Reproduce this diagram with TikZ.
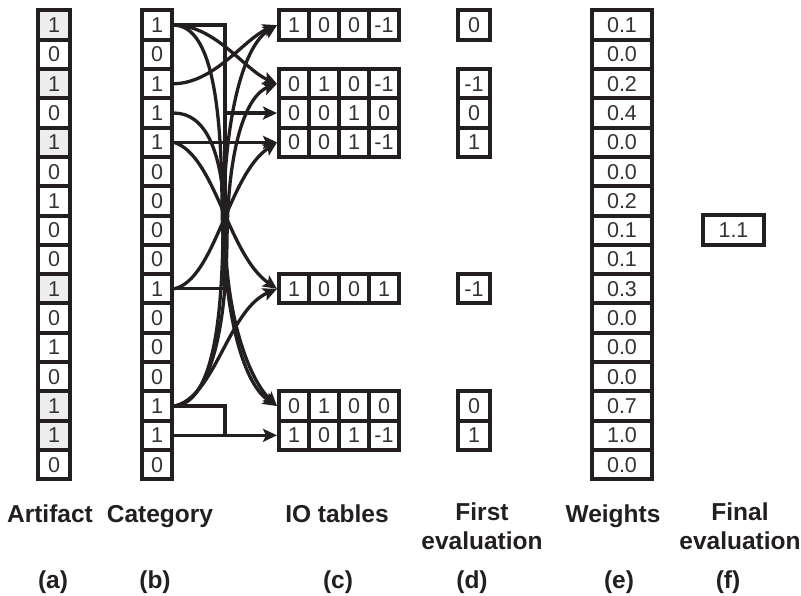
\documentclass[tikz,border=0pt]{standalone}
\usepackage{fontspec}
\setmainfont{Liberation Sans}
\usetikzlibrary{arrows.meta}
\definecolor{ink}{HTML}{231F20}
\definecolor{digit}{HTML}{333333}
\begin{document}
\begin{tikzpicture}[x=1pt,y=-1pt,
  cell/.style={draw=ink, line width=4pt, minimum width=#1, minimum height=29.3pt, inner sep=0pt, text=digit, font=\fontsize{21.5}{21.5}\selectfont},
  hl/.style={fill=black!7},
  nf/.style={},
  link/.style={draw=ink, line width=3.3pt},
  conn/.style={link, -{Stealth[length=14pt,width=13pt,inset=3pt]}},
  lbl/.style={text=ink, font=\fontsize{24.5}{29}\selectfont\bfseries, align=center}]
\useasboundingbox (0,0) rectangle (801,596);

% (a) Artifact
\foreach \v/\s [count=\i] in {1/hl,0/nf,1/hl,0/nf,1/hl,0/nf,1/nf,0/nf,0/nf,1/hl,0/nf,1/nf,0/nf,1/hl,1/hl,0/nf}
  \node[cell=32pt,\s] (a\i) at (54,{10.5+29.3*(\i-0.5)}) {\v};

% (b) Category
\foreach \v [count=\i] in {1,0,1,1,1,0,0,0,0,1,0,0,0,1,1,0}
  \node[cell=30pt] (c\i) at (157,{10.5+29.3*(\i-0.5)}) {\v};

% (c) IO tables and (d) first evaluation
\foreach \r/\pa/\pb/\pc/\pd/\fv in {1/1/0/0/-1/0, 3/0/1/0/-1/-1, 4/0/0/1/0/0, 5/0/0/1/-1/1, 10/1/0/0/1/-1, 14/0/1/0/0/0, 15/1/0/1/-1/1} {
  \node[cell=30pt] (io\r-1) at (294,{10.5+29.3*(\r-0.5)}) {\pa};
  \node[cell=30pt] (io\r-2) at (324,{10.5+29.3*(\r-0.5)}) {\pb};
  \node[cell=30pt] (io\r-3) at (354,{10.5+29.3*(\r-0.5)}) {\pc};
  \node[cell=30pt] (io\r-4) at (384,{10.5+29.3*(\r-0.5)}) {\pd};
  \node[cell=32pt] (fe\r) at (474,{10.5+29.3*(\r-0.5)}) {\fv};
}

% (e) Weights
\foreach \w [count=\i] in {0.1,0.0,0.2,0.4,0.0,0.0,0.2,0.1,0.1,0.3,0.0,0.0,0.0,0.7,1.0,0.0}
  \node[cell=60pt] (w\i) at (622,{10.5+29.3*(\i-0.5)}) {\w};

% (f) Final evaluation
\node[cell=61pt, minimum height=30pt] (fin) at (733.5,230.2) {1.1};

% connectors
\coordinate (vx) at (225,0);
\draw[link] (c1.east) -- (c1.east -| vx) -- (c10.east -| vx) -- (c10.east);
\draw[conn] (io4-1.west -| vx) -- (io4-1.west);
\draw[link] (c14.east) -- (c14.east -| vx) -- (c15.east -| vx);
\draw[conn] (c15.east) -- (io15-1.west);
\draw[conn] (c5.east) -- (io5-1.west);

\draw[conn] (c1.east) .. controls (215,25) and (245,70) .. (io3-1.west);
\draw[conn] (c3.east) .. controls (215,83) and (245,38) .. (io1-1.west);
\draw[conn] (c1.east) .. controls (208,26) and (221,90) .. (222,200) .. controls (223,320) and (245,385) .. (io14-1.west);
\draw[conn] (c4.east) .. controls (205,113) and (224,150) .. (225,230) .. controls (226,320) and (250,380) .. (io14-1.west);
\draw[conn] (c5.east) .. controls (215,155) and (228,255) .. (io10-1.west);
\draw[conn] (c10.east) .. controls (215,280) and (228,175) .. (io5-1.west);
\draw[conn] (c14.east) .. controls (215,398) and (228,310) .. (io10-1.west);
\draw[conn] (c14.east) .. controls (208,404) and (222,340) .. (223,230) .. controls (224,110) and (245,45) .. (io1-1.west);
\draw[conn] (c14.east) .. controls (210,402) and (226,330) .. (227,240) .. controls (228,140) and (248,95) .. (io3-1.west);

% labels
\node[lbl, anchor=base] (la) at (50,522) {Artifact};
\node[lbl, anchor=base] (lb) at (160,522) {Category};
\node[lbl, anchor=base] (lc) at (337,522) {IO tables};
\node[lbl] (ld) at (482,526) {First\\evaluation};
\node[lbl, anchor=base] (le) at (613,522) {Weights};
\node[lbl] (lf) at (740,526) {Final\\evaluation};
\node[lbl] (pa) at (53,582) {(a)};
\node[lbl] (pb) at (155,582) {(b)};
\node[lbl] (pc) at (338,582) {(c)};
\node[lbl] (pd) at (472,582) {(d)};
\node[lbl] (pe) at (619,582) {(e)};
\node[lbl] (pf) at (728,582) {(f)};
\end{tikzpicture}
\end{document}
